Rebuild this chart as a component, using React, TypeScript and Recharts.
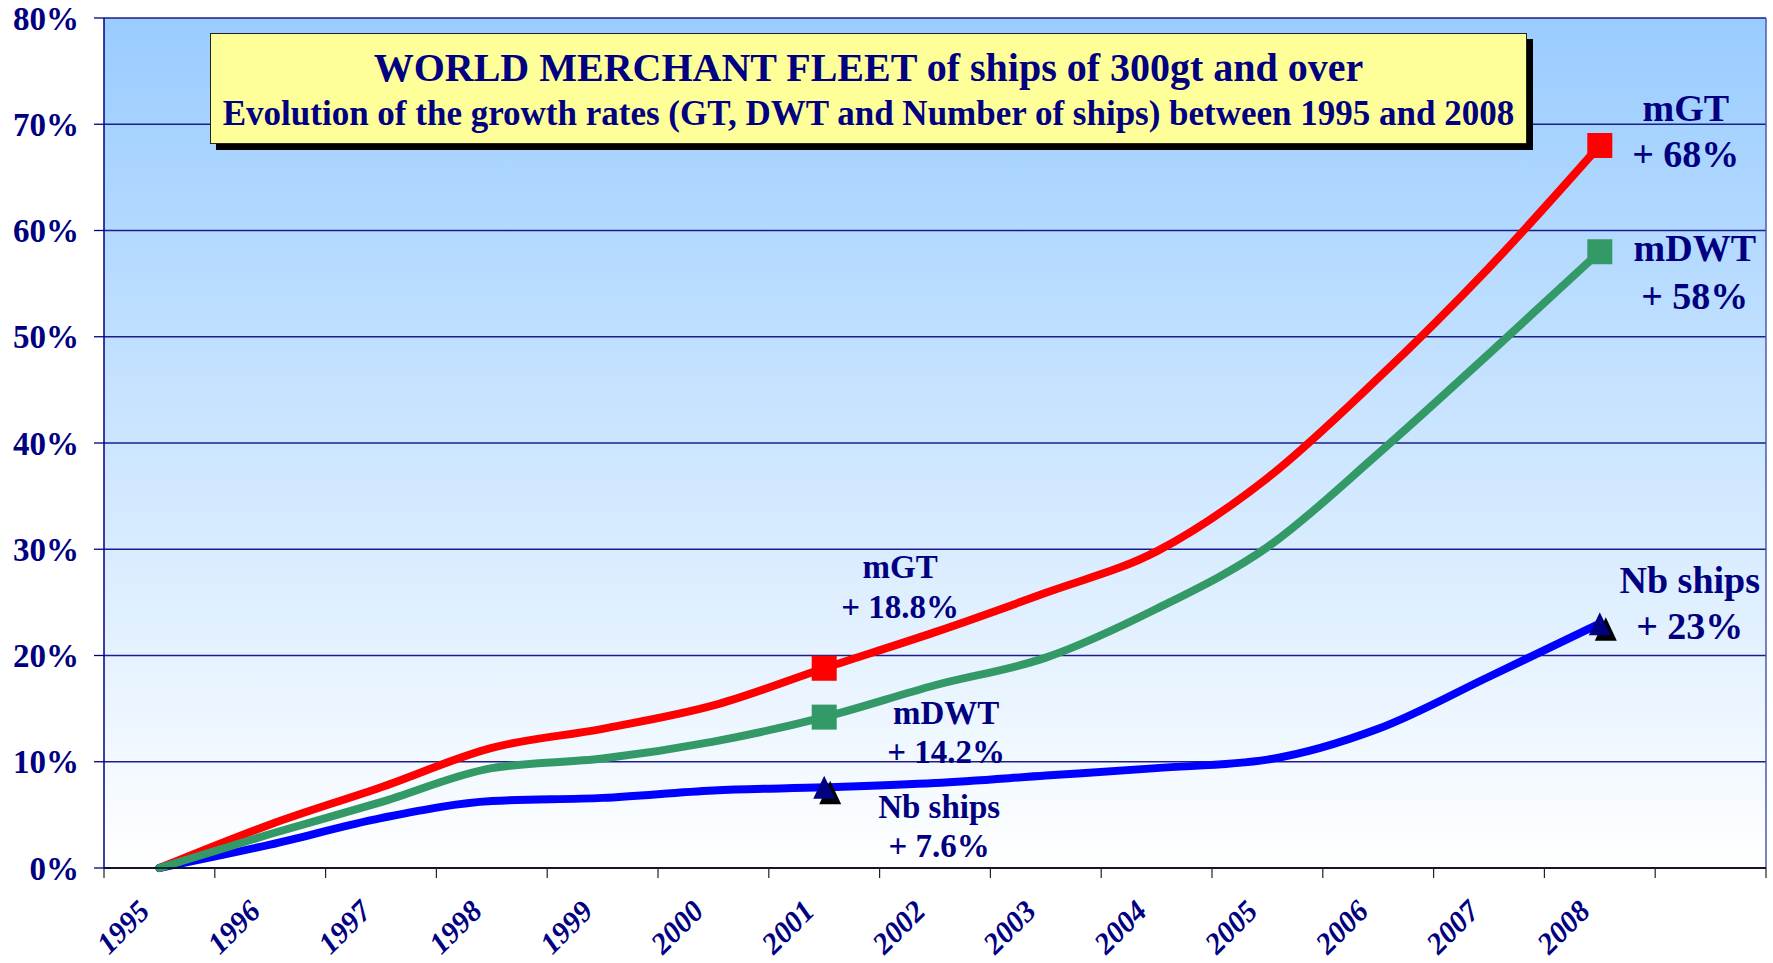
import * as React from "react";
import {
  LineChart,
  Line,
  XAxis,
  YAxis,
  CartesianGrid,
  ReferenceLine,
} from "recharts";

const YEARS = ["1995", "1996", "1997", "1998", "1999", "2000", "2001", "2002", "2003", "2004", "2005", "2006", "2007", "2008"];
// growth vs 1995, in %
const MGT = [0, 4.1, 7.6, 11.3, 13.1, 15.3, 18.8, 22.2, 25.9, 29.8, 36.7, 46.1, 56.5, 68];
const MDWT = [0, 3.2, 6.2, 9.4, 10.3, 11.9, 14.2, 17.2, 19.8, 24.4, 30.2, 39.0, 48.4, 58];
const NB_SHIPS = [0, 2.2, 4.7, 6.3, 6.6, 7.3, 7.6, 8.0, 8.7, 9.4, 10.2, 13.1, 18.0, 23];
const Y_TICKS = [0, 10, 20, 30, 40, 50, 60, 70, 80];
const BAND_COUNT = 15; // 14 years + one empty slot on the right
const NOTE_INDEXES = [6, 13];

const TITLE = "WORLD MERCHANT FLEET of ships of 300gt and over";
const SUBTITLE = "Evolution of the growth rates (GT, DWT and Number of ships) between 1995 and 2008";

const NAVY = "#000080";
const FONT = '"Liberation Serif", "Times New Roman", serif';

const data = YEARS.map((year, i) => ({
  x: i + 0.5,
  year,
  gt: MGT[i],
  dwt: MDWT[i],
  nb: NB_SHIPS[i],
}));

const boundaryTicks = Array.from({ length: BAND_COUNT + 1 }, (_, i) => i);
const yearTicks = YEARS.map((_, i) => i + 0.5);

type NoteOffset = { dx: number; dy1: number; dy2: number };

const SERIES = [
  {
    key: "gt",
    name: "mGT",
    color: "#FF0000",
    shape: "square",
    notes: [
      { dx: 76, dy1: -101, dy2: -61 },
      { dx: 86, dy1: -38, dy2: 8 },
    ],
  },
  {
    key: "nb",
    name: "Nb ships",
    color: "#0000FF",
    shape: "triangle",
    notes: [
      { dx: 115, dy1: 20, dy2: 59 },
      { dx: 90, dy1: -44, dy2: 2 },
    ],
  },
  {
    key: "dwt",
    name: "mDWT",
    color: "#339966",
    shape: "square",
    notes: [
      { dx: 122, dy1: -4, dy2: 35 },
      { dx: 95, dy1: -4, dy2: 44 },
    ],
  },
];

function makeDot(s: (typeof SERIES)[number]) {
  return (props: any) => {
    const { cx, cy, index, payload } = props;
    const k = NOTE_INDEXES.indexOf(index);
    if (k < 0 || cx == null || cy == null) return <g key={`d-${s.key}-${index}`} />;
    const note: NoteOffset = s.notes[k];
    const fontSize = k === 0 ? 33 : 38;
    const v = payload[s.key];
    return (
      <g key={`d-${s.key}-${index}`}>
        {s.shape === "square" ? (
          <rect x={cx - 12.5} y={cy - 12.5} width={25} height={25} fill={s.color} />
        ) : (
          <g>
            <polygon
              points={`${cx + 6},${cy - 6.5} ${cx - 5},${cy + 17} ${cx + 17},${cy + 17}`}
              fill="#000"
            />
            <polygon
              points={`${cx},${cy - 11.5} ${cx - 11},${cy + 11.5} ${cx + 11},${cy + 11.5}`}
              fill={NAVY}
            />
          </g>
        )}
        <text
          x={cx + note.dx}
          y={cy + note.dy1}
          textAnchor="middle"
          dominantBaseline="central"
          fontFamily={FONT}
          fontWeight={700}
          fontSize={fontSize}
          fill={NAVY}
        >
          {s.name}
        </text>
        <text
          x={cx + note.dx}
          y={cy + note.dy2}
          textAnchor="middle"
          dominantBaseline="central"
          fontFamily={FONT}
          fontWeight={700}
          fontSize={fontSize}
          fill={NAVY}
        >
          {`+ ${v}%`}
        </text>
      </g>
    );
  };
}

function YearTick(props: any) {
  const { x, y, payload } = props;
  const label = YEARS[Math.floor(payload.value)];
  return (
    <g transform={`translate(${x - 8},${y + 35})`}>
      <text
        transform="rotate(-45)"
        textAnchor="end"
        fontFamily={FONT}
        fontWeight={700}
        fontStyle="italic"
        fontSize={30}
        fill={NAVY}
      >
        {label}
      </text>
    </g>
  );
}

export default function App() {
  return (
    <div style={{ position: "absolute", left: 0, top: 0, width: 1773, height: 963, background: "#fff" }}>
      <LineChart width={1773} height={963} data={data} margin={{ top: 18, right: 7, bottom: 0, left: 0 }}>
        <defs>
          <linearGradient id="plotBg" x1="0" y1="0" x2="0" y2="1">
            <stop offset="0%" stopColor="#99CCFF" />
            <stop offset="100%" stopColor="#FFFFFF" />
          </linearGradient>
        </defs>
        <CartesianGrid
          xAxisId="a"
          vertical={false}
          stroke="#1c1c8c"
          strokeWidth={1.3}
          fill="url(#plotBg)"
          fillOpacity={1}
        />
        <XAxis
          xAxisId="a"
          dataKey="x"
          type="number"
          domain={[0, BAND_COUNT]}
          ticks={boundaryTicks}
          interval={0}
          tickFormatter={() => ""}
          tickSize={10}
          height={10}
          axisLine={{ stroke: "#000", strokeWidth: 1.5 }}
          tickLine={{ stroke: "#222", strokeWidth: 1.2 }}
        />
        <XAxis
          xAxisId="b"
          dataKey="x"
          type="number"
          domain={[0, BAND_COUNT]}
          ticks={yearTicks}
          interval={0}
          tickSize={0}
          tickMargin={0}
          height={85}
          axisLine={false}
          tickLine={false}
          tick={<YearTick />}
        />
        <YAxis
          type="number"
          domain={[0, 80]}
          ticks={Y_TICKS}
          interval={0}
          width={104}
          tickSize={10}
          tickMargin={15}
          tickFormatter={(v: number) => `${v}%`}
          axisLine={{ stroke: NAVY, strokeWidth: 1.5 }}
          tickLine={{ stroke: NAVY, strokeWidth: 1.3 }}
          tick={{ fill: NAVY, fontSize: 33, fontWeight: 700, fontFamily: FONT }}
        />
        <ReferenceLine xAxisId="a" x={BAND_COUNT} stroke="#4a5ab5" strokeWidth={1.5} />
        {SERIES.map((s) => (
          <Line
            key={s.key}
            xAxisId="a"
            type="monotone"
            dataKey={s.key}
            stroke={s.color}
            strokeWidth={8}
            strokeLinecap="round"
            dot={makeDot(s)}
            activeDot={false}
            isAnimationActive={false}
          />
        ))}
      </LineChart>
      <div
        style={{
          position: "absolute",
          left: 210,
          top: 33,
          width: 1317,
          height: 111,
          boxSizing: "border-box",
          background: "#FFFF99",
          border: "1.5px solid #222",
          boxShadow: "6px 6px 0 #000",
          fontFamily: FONT,
          fontWeight: 700,
          color: NAVY,
          textAlign: "center",
          whiteSpace: "nowrap",
        }}
      >
        <div style={{ position: "absolute", left: 0, right: 0, top: 12, fontSize: 40, lineHeight: "44px" }}>{TITLE}</div>
        <div style={{ position: "absolute", left: 0, right: 0, top: 60, fontSize: 35, lineHeight: "40px" }}>{SUBTITLE}</div>
      </div>
    </div>
  );
}
